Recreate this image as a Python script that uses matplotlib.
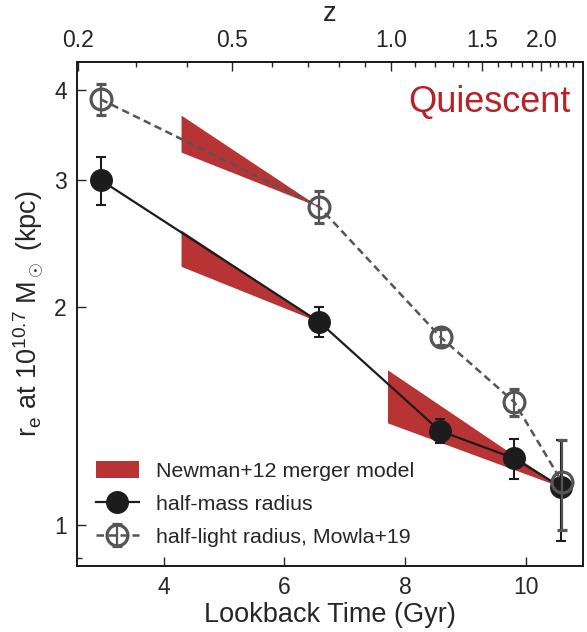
import numpy as np
import matplotlib
matplotlib.use('Agg')
import matplotlib.pyplot as plt
from matplotlib.lines import Line2D

plt.rcParams['font.family'] = ['Liberation Sans', 'DejaVu Sans']
plt.rcParams['mathtext.fontset'] = 'custom'
plt.rcParams['mathtext.rm'] = 'Liberation Sans'
plt.rcParams['mathtext.it'] = 'Liberation Sans:italic'

# half-mass radius (this work)
t_mass = [2.96, 6.58, 8.58, 9.81, 10.58]
r_mass = [3.0, 1.91, 1.35, 1.237, 1.13]
err_mass = [0.23, 0.09, 0.05, 0.08, 0.18]

# half-light radius, Mowla+19
t_light = [2.96, 6.58, 8.59, 9.81, 10.60]
r_light = [3.88, 2.755, 1.82, 1.48, 1.148]
err_light = [0.19, 0.14, 0.045, 0.065, 0.163]

# Newman+12 merger model wedges
band_t = [[4.29, 6.58], [4.29, 6.58], [7.71, 10.58]]
band_lo = [[3.28, 2.755], [2.28, 1.91], [1.385, 1.13]]
band_hi = [[3.69, 2.755], [2.56, 1.91], [1.64, 1.13]]

# redshift ticks on the top axis (lookback time positions)
z_labels = ['0.2', '0.5', '1.0', '1.5', '2.0']
z_major_t = [2.58, 5.13, 7.77, 9.28, 10.26]
z_minor_t = [3.54, 4.39, 5.79, 6.39, 6.90, 7.34, 8.16, 8.49, 8.80, 9.04,
             9.54, 9.76, 9.94, 10.10, 10.41, 10.53, 10.66, 10.78]

red = '#b83434'
dark = '#1c1c1c'
gray = '#555555'
txt = '#262626'

fig = plt.figure(figsize=(5.87, 6.32), dpi=100)
ax = fig.add_axes([0.1307, 0.1044, 0.8630, 0.7975])

bands = []
for i in range(len(band_t)):
    bands.append(ax.fill_between(band_t[i], band_lo[i], band_hi[i], color=red, lw=0, zorder=1))

ax.errorbar(t_mass, r_mass, yerr=err_mass, fmt='o-', color=dark, ms=15.5, lw=1.6,
            elinewidth=1.5, capsize=3.5, capthick=1.5, zorder=3)
light = ax.errorbar(t_light, r_light, yerr=err_light, fmt='o', ls=(0, (3, 1.8)), color=gray,
                    mfc='none', mec=gray, mew=2.3, ms=15, lw=1.8, elinewidth=1.6,
                    capsize=3.5, capthick=1.6, zorder=4)

ax.set_yscale('log')
ax.set_xlim(2.562, 10.954)
ax.set_ylim(0.878, 4.37)
ax.set_yticks([1, 2, 3, 4])
ax.set_yticklabels(['1', '2', '3', '4'])
ax.set_yticks([0.9], minor=True)
ax.set_yticklabels([''], minor=True)
ax.set_xticks([4, 6, 8, 10])

ax.tick_params(which='both', direction='in', colors=txt, labelsize=16.5, width=1.0)
ax.tick_params(which='major', length=6.7, pad=7)
ax.tick_params(which='minor', length=3.8)
ax.tick_params(top=False, right=False)
for s in ax.spines.values():
    s.set_linewidth(1.3)
    s.set_color(dark)

ax.set_xlabel('Lookback Time (Gyr)', fontsize=19.5, color=txt, labelpad=2)
ax.set_ylabel(r'r$_\mathrm{e}$ at 10$^{10.7}$ M$_\odot$ (kpc)', fontsize=19.5,
              color=txt, labelpad=6)

ax.text(0.975, 0.901, 'Quiescent', transform=ax.transAxes, ha='right', va='baseline',
        color='#b52228', fontsize=26)

mass_handle = Line2D([], [], color=dark, marker='o', ms=15.5, lw=1.6)
leg = ax.legend([bands[0], mass_handle, light],
                ['Newman+12 merger model', 'half-mass radius', 'half-light radius, Mowla+19'],
                loc='lower left', frameon=False, fontsize=15.4, labelspacing=0.62,
                handlelength=2.0, handleheight=0.8, handletextpad=0.8)
for t in leg.get_texts():
    t.set_color(txt)

top = ax.twiny()
top.set_xlim(ax.get_xlim())
top.set_xticks(z_major_t)
top.set_xticklabels(z_labels)
top.set_xticks(z_minor_t, minor=True)
top.tick_params(which='both', direction='in', colors=txt, labelsize=16.5, width=1.0)
top.tick_params(which='major', length=6.7, pad=7)
top.tick_params(which='minor', length=3.8)
top.set_xlabel('z', fontsize=19.5, color=txt, labelpad=6)
for s in top.spines.values():
    s.set_linewidth(1.3)
    s.set_color(dark)

fig.savefig('out.png', dpi=100)
